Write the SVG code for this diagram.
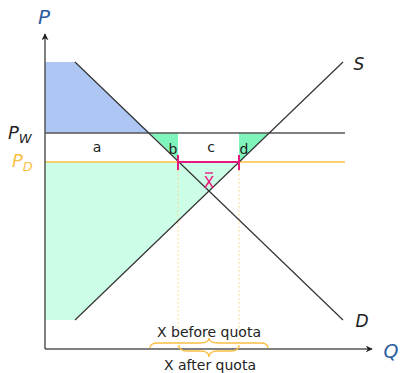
<svg xmlns="http://www.w3.org/2000/svg" width="400" height="373" viewBox="0 0 400 373">
<style>
  text { font-family: "DejaVu Sans", "Liberation Sans", sans-serif; }
  .lbl { font-size: 14px; fill: #222; text-anchor: middle; }
  .it { font-style: italic; }
  .ln { stroke: #333; stroke-width: 1.2; fill: none; }
  .ax { stroke: #555; stroke-width: 1.5; fill: none; }
  .dot { stroke: #f8d27a; stroke-width: 1; stroke-dasharray: 1.5 2.5; fill: none; }
  .br { stroke: #fbbf45; stroke-width: 1.3; fill: none; }
</style>
<defs>
  <marker id="arr" viewBox="0 0 10 10" refX="9" refY="5" markerWidth="7" markerHeight="7" orient="auto-start-reverse" markerUnits="userSpaceOnUse">
    <path d="M0,0 L10,5 L0,10 L3,5 Z" fill="#222"/>
  </marker>
</defs>
<g id="areas">
  <polygon id="blue" points="45,62 75,62 149.7,133 45,133" fill="#aec6f4"/>
  <polygon id="lightgreen" points="45,162 239,162 75,320 45,320" fill="#ccfde6"/>
  <polygon id="b-area" points="149.7,133 178,133 178,160" fill="#80f5bb"/>
  <polygon id="d-area" points="239,133 269,133 239,162" fill="#80f5bb"/>
</g>
<g id="connectors">
  <line class="dot" x1="178" y1="162" x2="178" y2="349"/>
  <line class="dot" x1="239" y1="162" x2="239" y2="349"/>
  <line x1="45" y1="133" x2="345" y2="133" stroke="#555" stroke-width="1.3"/>
  <line x1="45" y1="162" x2="345" y2="162" stroke="#fbbf45" stroke-width="1.5"/>
  <line id="D" class="ln" x1="75" y1="62" x2="343" y2="320"/>
  <line id="S" class="ln" x1="75" y1="320" x2="343" y2="62"/>
  <line class="ax" x1="45" y1="349" x2="45" y2="34" marker-end="url(#arr)"/>
  <line class="ax" x1="45" y1="349" x2="372" y2="349" marker-end="url(#arr)"/>
  <g id="quota" stroke="#e8177d" stroke-width="2" fill="none">
    <line x1="178" y1="162" x2="239" y2="162"/>
    <line x1="178" y1="155" x2="178" y2="170"/>
    <line x1="239" y1="155" x2="239" y2="170"/>
  </g>
  <path class="br" d="M150,348 Q150,343 158,343 L200,343 Q209,343 209,338 Q209,343 218,343 L260,343 Q268,343 268,348"/>
  <path class="br" d="M179,345 Q179,351 187,351 L200,351 Q209,351 209,357 Q209,351 218,351 L231,351 Q239,351 239,345"/>
</g>
<g id="labels">
  <text x="44" y="24" font-size="20" fill="#2a5d9f" class="it" text-anchor="middle">P</text>
  <text x="8" y="139" font-size="18" fill="#222" class="it">P<tspan font-size="13" dy="4">W</tspan></text>
  <text x="12" y="167" font-size="18" fill="#fbbf45" class="it">P<tspan font-size="13" dy="4">D</tspan></text>
  <text x="359" y="70" font-size="17" fill="#222" class="it" text-anchor="middle">S</text>
  <text x="362" y="327" font-size="17" fill="#222" class="it" text-anchor="middle">D</text>
  <text x="391" y="358" font-size="19" fill="#2a5d9f" class="it" text-anchor="middle">Q</text>
  <text class="lbl" x="97" y="152">a</text>
  <text class="lbl" x="173" y="154">b</text>
  <text class="lbl" x="211" y="152">c</text>
  <text class="lbl" x="244" y="154">d</text>
  <text x="209" y="188" font-size="16" fill="#e8177d" text-anchor="middle">X</text>
  <line x1="205" y1="173" x2="213" y2="173" stroke="#e8177d" stroke-width="1.3"/>
  <text class="lbl" x="209" y="337">X before quota</text>
  <text class="lbl" x="210" y="370">X after quota</text>
</g>
</svg>
